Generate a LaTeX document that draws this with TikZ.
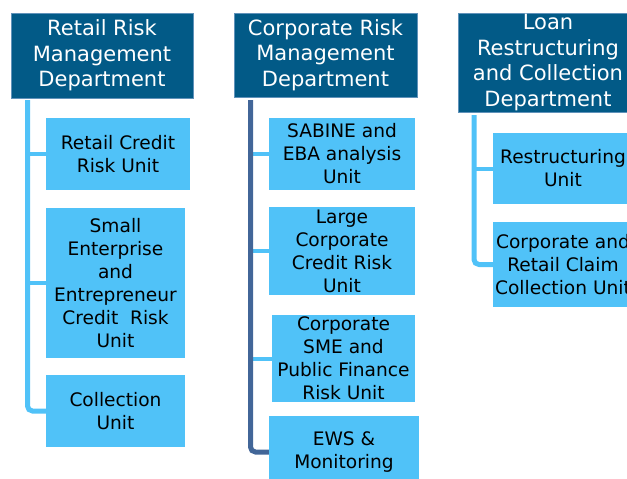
\documentclass[tikz,border=0pt]{standalone}
\usepackage{fontspec}
\setmainfont{DejaVu Sans}
\usetikzlibrary{positioning}

\definecolor{deptblue}{RGB}{2,90,135}
\definecolor{deptline}{RGB}{96,146,186}
\definecolor{unitblue}{RGB}{80,194,248}
\definecolor{trunkblue}{RGB}{66,102,152}

\begin{document}
\begin{tikzpicture}[
		x={(1pt,0pt)},
		y={(0pt,-1pt)},
		dept/.style={draw=deptline, fill=deptblue, text=white, align=center, inner sep=0pt,
			font=\fontsize{21}{25.5}\selectfont},
		unit/.style={fill=unitblue, text=black, align=center, inner sep=0pt,
			font=\fontsize{18.6}{23}\selectfont},
		trunk/.style={line width=5pt, draw=unitblue, rounded corners=5pt},
		branch/.style={line width=4pt, draw=unitblue}
		]
		
		\useasboundingbox (0,0) rectangle (627,479);
		\clip (0,0) rectangle (627,479);
		
		% departments
		\node[dept, minimum width=182, minimum height=85] (retail) at (102,55.5)
		{Retail Risk\\Management\\Department};
		\node[dept, minimum width=183, minimum height=84] (corp) at (325.5,55)
		{Corporate Risk\\Management\\Department};
		\node[dept, minimum width=180, minimum height=99] (loan) at (548,62.5)
		{Loan\\Restructuring\\and Collection\\Department};
		
		% retail units
		\node[unit, minimum width=144, minimum height=72] (rcr) at (118,154)
		{Retail Credit\\Risk Unit};
		\node[unit, minimum width=139, minimum height=150] (seu) at (115.5,283)
		{Small\\Enterprise\\and\\Entrepreneur\\Credit\ \ Risk\\Unit};
		\node[unit, minimum width=139, minimum height=72] (coll) at (115.5,411)
		{Collection\\Unit};
		
		% corporate units
		\node[unit, minimum width=146, minimum height=72] (sabine) at (342,154)
		{SABINE and\\EBA analysis\\Unit};
		\node[unit, minimum width=146, minimum height=88] (lcc) at (342,251)
		{Large\\Corporate\\Credit Risk\\Unit};
		\node[unit, minimum width=143, minimum height=87] (sme) at (343.5,358.5)
		{Corporate\\SME and\\Public Finance\\Risk Unit};
		\node[unit, minimum width=150, minimum height=72] (ews) at (344,452)
		{EWS \&\\Monitoring};
		
		% loan units
		\node[unit, minimum width=140, minimum height=71] (restr) at (563,168.5)
		{Restructuring\\Unit};
		\node[unit, minimum width=140, minimum height=85] (claim) at (563,264.5)
		{Corporate and\\Retail Claim\\Collection Unit};
		
		% retail tree
		\coordinate (t1) at (27.5,100);
		\draw[branch] (t1 |- rcr.west) -- (rcr.west);
		\draw[branch] (t1 |- seu.west) -- (seu.west);
		\draw[trunk] (t1) |- (coll.west);
		
		% corporate tree
		\coordinate (t2) at (250.5,100);
		\draw[branch] (t2 |- sabine.west) -- (sabine.west);
		\draw[branch] (t2 |- lcc.west) -- (lcc.west);
		\draw[branch] (t2 |- sme.west) -- (sme.west);
		\draw[trunk, draw=trunkblue] (t2) |- (ews.west);
		
		% loan tree
		\coordinate (t3) at (474,115);
		\draw[branch] (t3 |- restr.west) -- (restr.west);
		\draw[trunk] (t3) |- (claim.west);
		
	\end{tikzpicture}
\end{document}
